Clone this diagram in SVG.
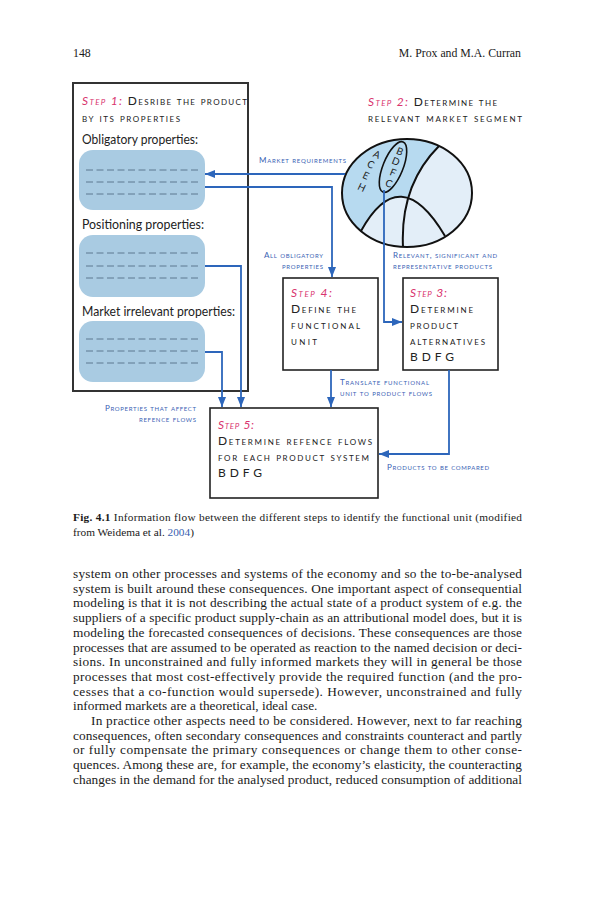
<svg xmlns="http://www.w3.org/2000/svg" width="593" height="900" viewBox="0 0 593 900">
<style>
.page{font-family:"Liberation Serif","Times New Roman",serif;fill:#1a1a1a}
.body{font-size:13.3px}
.sc{font-family:Lato,"Open Sans",sans-serif;font-variant:small-caps;fill:#222}
.step{font-size:12px}
.stp{fill:#d9356f;font-style:italic}
.prop{font-family:Lato,"Open Sans",sans-serif;font-size:13.5px;fill:#222}
.lbl{font-family:Lato,"Open Sans",sans-serif;font-variant:small-caps;font-size:8px;fill:#3a62b4}
.box{fill:#fff;stroke:#222;stroke-width:1.6}
.pbox{fill:#a9cbe2}
.dash{stroke:#5d7890;stroke-width:1;stroke-dasharray:7 3.5}
.con{fill:none;stroke:#2d66bb;stroke-width:1.8}
.ln{fill:none;stroke:#111;stroke-width:2}
.let{font-family:Lato,"Open Sans",sans-serif;font-size:10px;fill:#222}
</style>
<defs>
<marker id="ah" markerUnits="userSpaceOnUse" markerWidth="10" markerHeight="8" refX="10" refY="4" orient="auto">
<path d="M0,0 L10,4 L0,8 z" fill="#2d66bb"/>
</marker>
<clipPath id="ec"><ellipse cx="407" cy="193" rx="65" ry="54"/></clipPath>
</defs>
<rect width="593" height="900" fill="#fff"/>

<g id="header" class="page">
<text x="73" y="57" font-size="11.8">148</text>
<text x="521" y="57" font-size="11.8" text-anchor="end">M. Prox and M.A. Curran</text>
</g>

<g id="step1">
<rect x="73" y="83" width="175" height="308" fill="#fff" stroke="#333" stroke-width="2"/>
<text class="sc step" x="82" y="105" textLength="165" lengthAdjust="spacing"><tspan class="stp">Step 1:</tspan> Desribe the product</text>
<text class="sc step" x="82" y="122" textLength="98" lengthAdjust="spacing">by its properties</text>
<text class="prop" x="82" y="144" textLength="116" lengthAdjust="spacingAndGlyphs">Obligatory properties:</text>
<rect class="pbox" x="79" y="150" width="126" height="60" rx="14"/>
<line class="dash" x1="86" y1="170" x2="198" y2="170"/>
<line class="dash" x1="86" y1="182" x2="198" y2="182"/>
<line class="dash" x1="86" y1="194" x2="198" y2="194"/>
<text class="prop" x="82" y="229" textLength="122" lengthAdjust="spacingAndGlyphs">Positioning properties:</text>
<rect class="pbox" x="79" y="235" width="126" height="62" rx="14"/>
<line class="dash" x1="86" y1="253" x2="198" y2="253"/>
<line class="dash" x1="86" y1="266" x2="198" y2="266"/>
<line class="dash" x1="86" y1="278" x2="198" y2="278"/>
<text class="prop" x="82" y="316" textLength="153" lengthAdjust="spacingAndGlyphs">Market irrelevant properties:</text>
<rect class="pbox" x="79" y="321" width="126" height="61" rx="14"/>
<line class="dash" x1="86" y1="339" x2="198" y2="339"/>
<line class="dash" x1="86" y1="351" x2="198" y2="351"/>
<line class="dash" x1="86" y1="363" x2="198" y2="363"/>
</g>

<g id="step2">
<text class="sc step" x="368" y="106" textLength="129" lengthAdjust="spacing"><tspan class="stp">Step 2:</tspan> Determine the</text>
<text class="sc step" x="368" y="122" textLength="154" lengthAdjust="spacing">relevant market segment</text>
<ellipse cx="407" cy="193" rx="65" ry="54" fill="#e3eef8"/>
<g clip-path="url(#ec)">
<path d="M439,146 Q400,185 403,247 L330,247 L330,130 L445,130 Z" fill="#b7daf0"/>
<path d="M361,231 Q400,160 445,236 L450,260 L355,260 Z" fill="#e3eef8"/>
<path class="ln" d="M439,146 Q400,185 403,247"/>
<path class="ln" d="M361,231 Q400,160 445,236"/>
</g>
<ellipse cx="407" cy="193" rx="65" ry="54" fill="none" stroke="#111" stroke-width="2"/>
<ellipse cx="393" cy="167" rx="10" ry="27" transform="rotate(22 393 167)" fill="none" stroke="#111" stroke-width="1.6"/>
<text class="let" x="400" y="155" text-anchor="middle" transform="rotate(22 400 151)">B</text>
<text class="let" x="396" y="165" text-anchor="middle" transform="rotate(22 396 161)">D</text>
<text class="let" x="393" y="176" text-anchor="middle" transform="rotate(22 393 172)">F</text>
<text class="let" x="389" y="187" text-anchor="middle" transform="rotate(22 389 183)">C</text>
<text class="let" x="377" y="158" text-anchor="middle" transform="rotate(25 377 154)">A</text>
<text class="let" x="371" y="168" text-anchor="middle" transform="rotate(25 371 164)">C</text>
<text class="let" x="366" y="179" text-anchor="middle" transform="rotate(25 366 175)">E</text>
<text class="let" x="362" y="191" text-anchor="middle" transform="rotate(25 362 187)">H</text>
</g>

<g id="step4">
<rect class="box" x="283" y="278" width="95" height="92"/>
<text class="sc step stp" x="291" y="297" textLength="41" lengthAdjust="spacing">Step 4:</text>
<text class="sc step" x="291" y="313" textLength="65" lengthAdjust="spacing">Define the</text>
<text class="sc step" x="291" y="329" textLength="69" lengthAdjust="spacing">functional</text>
<text class="sc step" x="291" y="345" textLength="26" lengthAdjust="spacing">unit</text>
</g>

<g id="step3">
<rect class="box" x="403" y="278" width="95" height="92"/>
<text class="sc step stp" x="410" y="297" textLength="37" lengthAdjust="spacing">Step 3:</text>
<text class="sc step" x="410" y="313" textLength="63" lengthAdjust="spacing">Determine</text>
<text class="sc step" x="410" y="329" textLength="48" lengthAdjust="spacing">product</text>
<text class="sc step" x="410" y="345" textLength="75" lengthAdjust="spacing">alternatives</text>
<text class="sc step" x="410" y="361" textLength="44" lengthAdjust="spacing">B D F G</text>
</g>

<g id="step5">
<rect class="box" x="210" y="408" width="168" height="90"/>
<text class="sc step stp" x="218" y="429" textLength="36" lengthAdjust="spacing">Step 5:</text>
<text class="sc step" x="218" y="445" textLength="154" lengthAdjust="spacing">Determine refence flows</text>
<text class="sc step" x="218" y="461" textLength="151" lengthAdjust="spacing">for each product system</text>
<text class="sc step" x="218" y="477" textLength="44" lengthAdjust="spacing">B D F G</text>
</g>

<g id="connectors">
<path class="con" d="M345,174 L205,174" marker-end="url(#ah)"/>
<path class="con" d="M205,187 L332,187 L332,277" marker-end="url(#ah)"/>
<path class="con" d="M384,190 L384,322 L402,322" marker-end="url(#ah)"/>
<path class="con" d="M205,266 L241,266 L241,407" marker-end="url(#ah)"/>
<path class="con" d="M205,352 L222,352 L222,407" marker-end="url(#ah)"/>
<path class="con" d="M331,370 L331,407" marker-end="url(#ah)"/>
<path class="con" d="M449,370 L449,454 L379,454" marker-end="url(#ah)"/>
</g>

<g id="labels">
<text class="lbl" x="259" y="163" textLength="87" lengthAdjust="spacing">Market requirements</text>
<text class="lbl" x="323" y="258" text-anchor="end" textLength="59" lengthAdjust="spacing">All obligatory</text>
<text class="lbl" x="323" y="269" text-anchor="end" textLength="41" lengthAdjust="spacing">properties</text>
<text class="lbl" x="393" y="258" textLength="104" lengthAdjust="spacing">Relevant, significant and</text>
<text class="lbl" x="393" y="269" textLength="99" lengthAdjust="spacing">representative products</text>
<text class="lbl" x="340" y="385" textLength="89" lengthAdjust="spacing">Translate functional</text>
<text class="lbl" x="340" y="396" textLength="92" lengthAdjust="spacing">unit to product flows</text>
<text class="lbl" x="196" y="411" text-anchor="end" textLength="91" lengthAdjust="spacing">Properties that affect</text>
<text class="lbl" x="196" y="422" text-anchor="end" textLength="57" lengthAdjust="spacing">refence flows</text>
<text class="lbl" x="387" y="470" textLength="102" lengthAdjust="spacing">Products to be compared</text>
</g>

<g id="caption" class="page" font-size="11.3">
<text x="73" y="521" textLength="449" lengthAdjust="spacing"><tspan font-weight="bold">Fig. 4.1</tspan>  Information flow between the different steps to identify the functional unit (modified</text>
<text x="73" y="536">from Weidema et al. <tspan fill="#3a5fb0">2004</tspan>)</text>
</g>

<g id="bodytext" class="page body">
<text x="73" y="578" textLength="449" lengthAdjust="spacing">system on other processes and systems of the economy and so the to-be-analysed</text>
<text x="73" y="592.7" textLength="449" lengthAdjust="spacing">system is built around these consequences. One important aspect of consequential</text>
<text x="73" y="607.4" textLength="449" lengthAdjust="spacing">modeling is that it is not describing the actual state of a product system of e.g. the</text>
<text x="73" y="622.1" textLength="449" lengthAdjust="spacing">suppliers of a specific product supply-chain as an attributional model does, but it is</text>
<text x="73" y="636.8" textLength="449" lengthAdjust="spacing">modeling the forecasted consequences of decisions. These consequences are those</text>
<text x="73" y="651.5" textLength="449" lengthAdjust="spacing">processes that are assumed to be operated as reaction to the named decision or deci-</text>
<text x="73" y="666.2" textLength="449" lengthAdjust="spacing">sions. In unconstrained and fully informed markets they will in general be those</text>
<text x="73" y="680.9" textLength="449" lengthAdjust="spacing">processes that most cost-effectively provide the required function (and the pro-</text>
<text x="73" y="695.6" textLength="449" lengthAdjust="spacing">cesses that a co-function would supersede). However, unconstrained and fully</text>
<text x="73" y="710.3">informed markets are a theoretical, ideal case.</text>
<text x="91" y="725" textLength="431" lengthAdjust="spacing">In practice other aspects need to be considered. However, next to far reaching</text>
<text x="73" y="739.7" textLength="449" lengthAdjust="spacing">consequences, often secondary consequences and constraints counteract and partly</text>
<text x="73" y="754.4" textLength="449" lengthAdjust="spacing">or fully compensate the primary consequences or change them to other conse-</text>
<text x="73" y="769.1" textLength="449" lengthAdjust="spacing">quences. Among these are, for example, the economy’s elasticity, the counteracting</text>
<text x="73" y="783.8" textLength="449" lengthAdjust="spacing">changes in the demand for the analysed product, reduced consumption of additional</text>
</g>
</svg>
